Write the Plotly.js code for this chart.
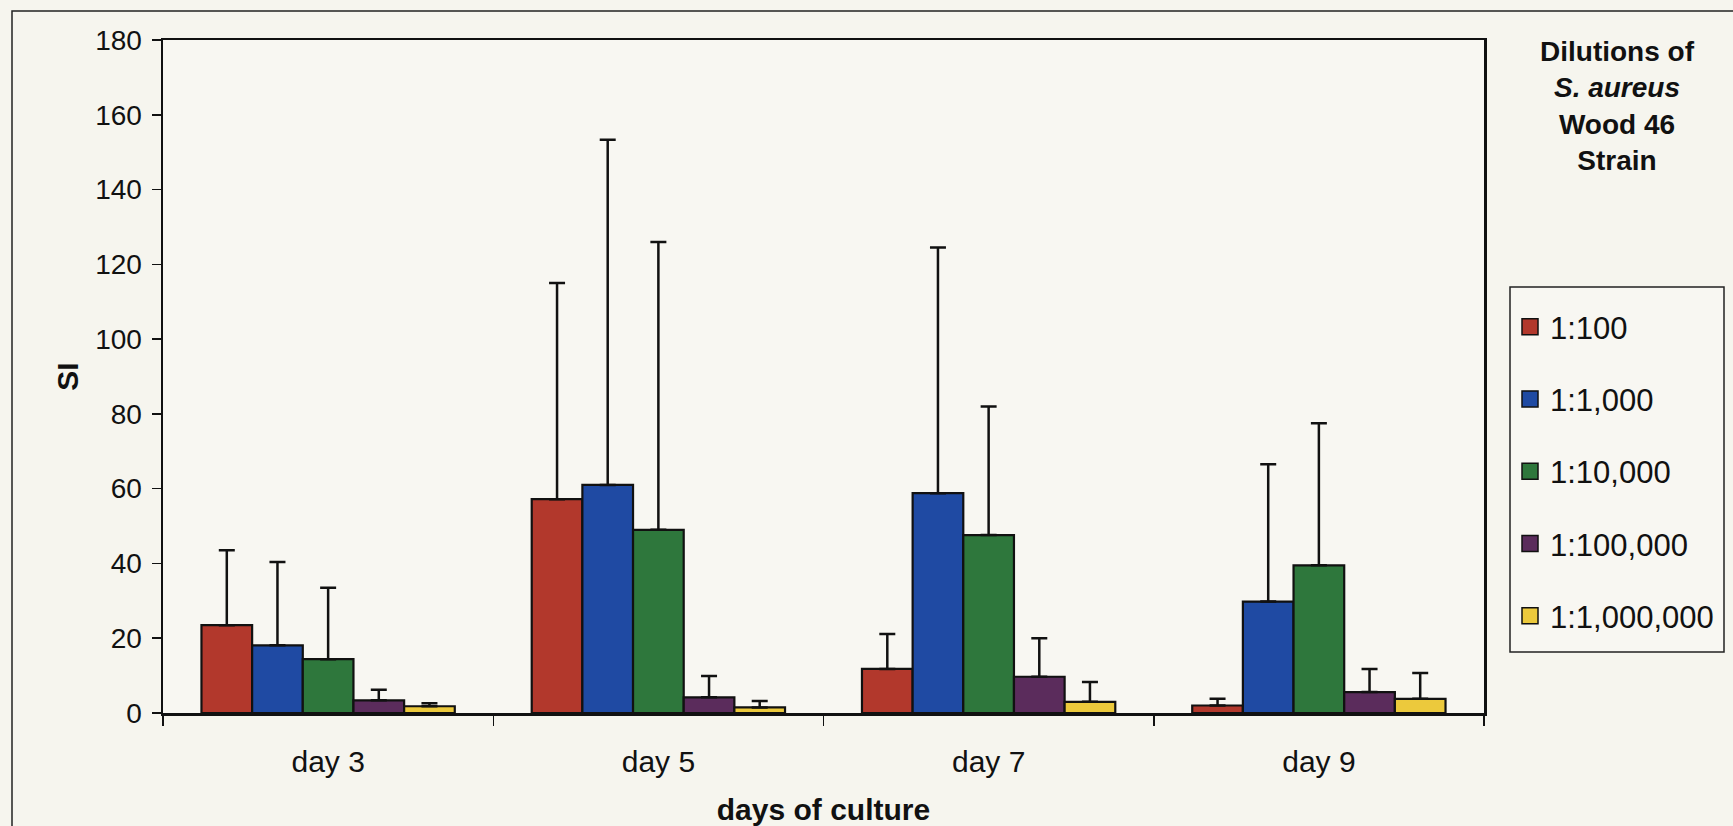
<!DOCTYPE html>
<html>
<head>
<meta charset="utf-8">
<script src="https://cdn.plot.ly/plotly-3.0.1.min.js"></script>
<style>
  html, body { margin: 0; padding: 0; background: #f6f5ee; }
  #chart { width: 1733px; height: 826px; }
</style>
</head>
<body>
<div id="chart"></div>
<script>
// ---- data ----
const categories = ["day 3", "day 5", "day 7", "day 9"];
const seriesNames = ["1:100", "1:1,000", "1:10,000", "1:100,000", "1:1,000,000"];
const seriesColors = ["#b2382c", "#1f4aa3", "#2e773c", "#5b2c5c", "#ecc93c"];

const dil100     = [23.5, 57.2, 11.8, 2.0];
const dil1000    = [18.1, 61.0, 58.8, 29.8];
const dil10000   = [14.4, 49.0, 47.6, 39.5];
const dil100000  = [3.4, 4.2, 9.7, 5.6];
const dil1000000 = [1.8, 1.5, 3.0, 3.8];

const err100     = [20.0, 57.8, 9.3, 1.8];
const err1000    = [22.3, 92.3, 65.7, 36.7];
const err10000   = [19.1, 77.0, 34.4, 38.0];
const err100000  = [2.8, 5.7, 10.3, 6.2];
const err1000000 = [0.8, 1.7, 5.3, 6.9];

const yTickVals = [0, 20, 40, 60, 80, 100, 120, 140, 160, 180];

const values = [dil100, dil1000, dil10000, dil100000, dil1000000];
const errors = [err100, err1000, err10000, err100000, err1000000];

const FONT = "Liberation Sans, Arial, sans-serif";

const barTraces = seriesNames.map((name, i) => ({
  type: "bar",
  name: name,
  x: categories,
  y: values[i],
  showlegend: false,
  marker: { color: seriesColors[i], line: { color: "#111", width: 2.2 } },
  error_y: {
    type: "data",
    symmetric: false,
    array: errors[i],
    arrayminus: errors[i].map(() => 0),
    color: "#111",
    thickness: 2.5,
    width: 8
  },
  hoverinfo: "skip"
}));

// legend-only entries (larger square swatches, like the reference)
const legendTraces = seriesNames.map((name, i) => ({
  type: "scatter",
  mode: "markers",
  name: name,
  x: [categories[0]],
  y: [null],
  legendgroup: "g" + i,
  showlegend: true,
  marker: { symbol: "square", size: 16, color: seriesColors[i], line: { color: "#111", width: 1.5 } },
  hoverinfo: "skip"
}));

const W = 1733, H = 826;
const L = 163, R = 1484, T = 40, B = 713;
const px2x = p => (p - L) / (R - L);
const px2y = p => (B - p) / (B - T);

const layout = {
  width: W, height: H, autosize: false,
  paper_bgcolor: "#f6f5ee",
  plot_bgcolor: "#f8f7f2",
  font: { family: FONT, color: "#111", size: 28 },
  margin: { l: L, r: W - R, t: T, b: H - B, pad: 0 },
  barmode: "group",
  bargap: 0.233,
  bargroupgap: 0,
  showlegend: true,
  legend: {
    x: px2x(1510), y: px2y(300), xanchor: "left", yanchor: "top",
    bgcolor: "rgba(0,0,0,0)", borderwidth: 0,
    font: { family: FONT, size: 31, color: "#111" },
    tracegroupgap: 29,
    itemwidth: 30
  },
  xaxis: {
    type: "category",
    tickson: "boundaries",
    ticks: "outside", ticklen: 10, tickwidth: 1.5, tickcolor: "#111",
    showline: true, linecolor: "#111", linewidth: 2.5, mirror: true,
    showgrid: false, zeroline: false,
    tickfont: { family: FONT, size: 30, color: "#111" },
    ticklabelstandoff: 20,
    title: { text: "<b>days of culture</b>", font: { family: FONT, size: 30, color: "#111" }, standoff: 23 }
  },
  yaxis: {
    range: [0, 180],
    tickvals: yTickVals,
    ticktext: yTickVals.map(String),
    ticks: "outside", ticklen: 9, tickwidth: 1.5, tickcolor: "#111",
    showline: true, linecolor: "#111", linewidth: 2.5, mirror: true,
    showgrid: false, zeroline: false,
    tickfont: { family: FONT, size: 28, color: "#111" },
    ticklabelstandoff: 4,
    title: { text: "<b>SI</b>", font: { family: FONT, size: 30, color: "#111" }, standoff: 8 }
  },
  annotations: [{
    xref: "paper", yref: "paper",
    x: px2x(1617), y: px2y(34), xanchor: "center", yanchor: "top",
    align: "center", showarrow: false,
    text: "<b>Dilutions of<br><i>S. aureus</i><br>Wood 46<br>Strain</b>",
    font: { family: FONT, size: 28, color: "#111" }
  }],
  shapes: [
    {
      type: "rect", xref: "paper", yref: "paper",
      x0: px2x(12), x1: px2x(1760), y0: px2y(850), y1: px2y(11),
      line: { color: "#222", width: 1.5 }, fillcolor: "rgba(0,0,0,0)", layer: "below"
    },
    {
      type: "rect", xref: "paper", yref: "paper",
      x0: px2x(1510), x1: px2x(1724), y0: px2y(652), y1: px2y(287),
      line: { color: "#222", width: 1.5 }, fillcolor: "#f8f7f2", layer: "below"
    }
  ]
};

Plotly.newPlot("chart", barTraces.concat(legendTraces), layout, { staticPlot: true, displayModeBar: false });
</script>
</body>
</html>
